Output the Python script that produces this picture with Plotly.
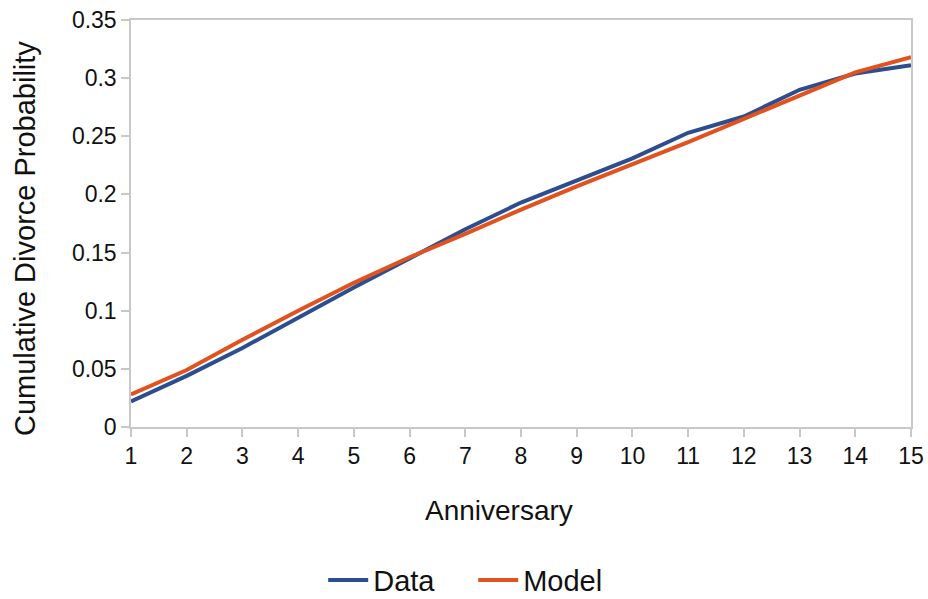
import plotly.graph_objects as go

anniversary = list(range(1, 16))
data_vals = [0.022, 0.044, 0.068, 0.094, 0.120, 0.145, 0.170, 0.193, 0.212, 0.231,
             0.253, 0.267, 0.290, 0.304, 0.311]
model_vals = [0.028, 0.049, 0.075, 0.100, 0.124, 0.146, 0.166, 0.187, 0.207, 0.226,
              0.245, 0.265, 0.285, 0.305, 0.318]
y_ticks = [0, 0.05, 0.1, 0.15, 0.2, 0.25, 0.3, 0.35]
y_tick_labels = ["0", "0.05", "0.1", "0.15", "0.2", "0.25", "0.3", "0.35"]

fig = go.Figure()
fig.add_trace(go.Scatter(x=anniversary, y=data_vals, mode="lines", name="Data",
                         line=dict(color="#2C4D8E", width=4)))
fig.add_trace(go.Scatter(x=anniversary, y=model_vals, mode="lines", name="Model",
                         line=dict(color="#E2521F", width=4)))

font_family = "Liberation Sans, Arial, sans-serif"
axis_common = dict(showgrid=False, zeroline=False,
                   showline=True, linecolor="#C8C8C8", linewidth=1.5, mirror=True,
                   ticks="outside", ticklen=8, tickcolor="#C8C8C8", tickwidth=1.5,
                   tickfont=dict(size=23), ticklabeloverflow="allow")

fig.update_layout(
    width=928, height=599,
    margin=dict(l=131, r=17, t=20, b=172, autoexpand=False),
    paper_bgcolor="white", plot_bgcolor="white",
    font=dict(family=font_family, color="#111111", size=23),
    showlegend=True,
    legend=dict(orientation="h", x=0.2464, y=-0.376, xanchor="left", yanchor="middle",
                font=dict(size=29), itemwidth=40, traceorder="normal",
                entrywidth=95, entrywidthmode="pixels"),
    xaxis=dict(range=[1, 15], tickvals=anniversary, **axis_common),
    yaxis=dict(range=[0, 0.35], tickvals=y_ticks, ticktext=y_tick_labels, **axis_common),
    annotations=[
        dict(text="Anniversary", xref="paper", yref="paper",
             x=(499 - 131) / 780, y=(427 - 510) / 407, xanchor="center", yanchor="middle",
             showarrow=False, font=dict(size=28)),
        dict(text="Cumulative Divorce Probability", xref="paper", yref="paper",
             x=(25 - 131) / 780, y=(427 - 239) / 407, xanchor="center", yanchor="middle",
             textangle=-90, showarrow=False, font=dict(size=29)),
    ],
)

fig.write_html("out.html", config={"displayModeBar": False},
               post_script="document.body.style.margin='0';document.body.style.overflow='hidden';")
